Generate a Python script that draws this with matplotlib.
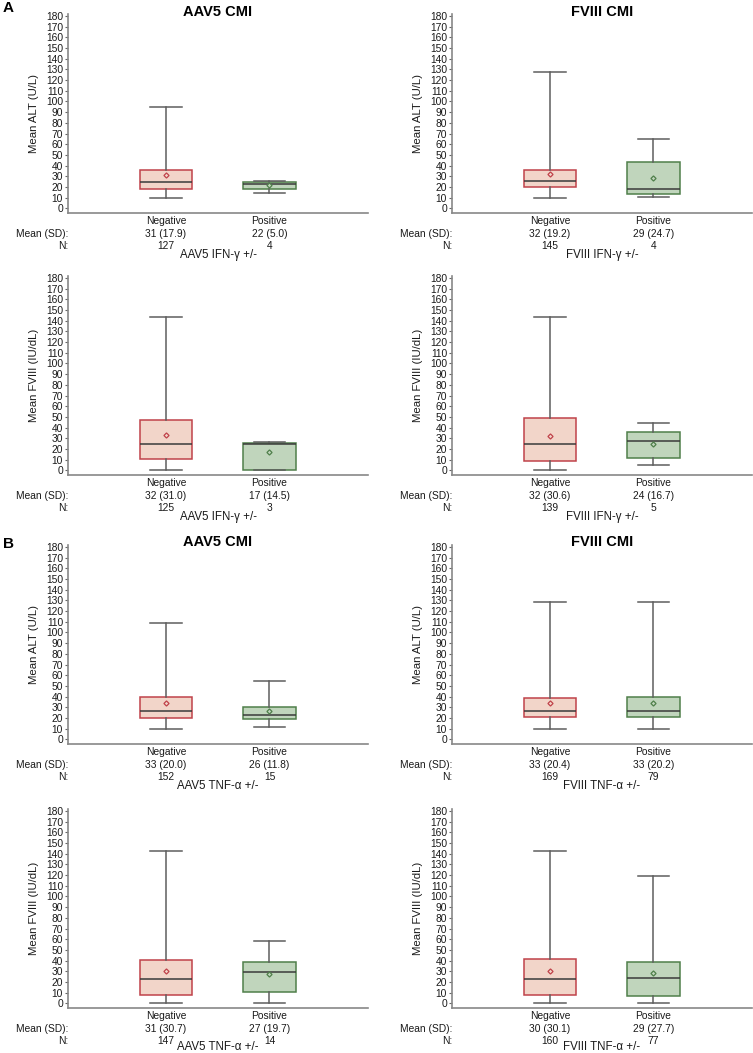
import matplotlib
matplotlib.use('Agg')
import matplotlib.pyplot as plt

plt.rcParams['font.family'] = ['Liberation Sans', 'DejaVu Sans']

# panel order: A ALT/AAV5, A ALT/FVIII, A FVIII/AAV5, A FVIII/FVIII,
#              B ALT/AAV5, B ALT/FVIII, B FVIII/AAV5, B FVIII/FVIII
groups = ['Negative', 'Positive']
titles = ['AAV5 CMI', 'FVIII CMI', None, None, 'AAV5 CMI', 'FVIII CMI', None, None]
ylabels = ['Mean ALT (U/L)', 'Mean ALT (U/L)',
           'Mean FVIII (IU/dL)', 'Mean FVIII (IU/dL)',
           'Mean ALT (U/L)', 'Mean ALT (U/L)',
           'Mean FVIII (IU/dL)', 'Mean FVIII (IU/dL)']
xlabels = ['AAV5 IFN-γ +/-', 'FVIII IFN-γ +/-', 'AAV5 IFN-γ +/-', 'FVIII IFN-γ +/-',
           'AAV5 TNF-α +/-', 'FVIII TNF-α +/-', 'AAV5 TNF-α +/-', 'FVIII TNF-α +/-']

whishi = [[94.5, 25.9], [127.6, 64.6], [143.4, 26.0], [143.4, 44.5],
          [109.0, 54.6], [128.2, 128.2], [142.7, 58.3], [142.7, 119.5]]
q3 = [[35.6, 25.0], [35.6, 43.0], [47.3, 25.4], [48.5, 35.7],
      [40.0, 30.1], [38.2, 39.1], [40.5, 38.9], [41.4, 38.9]]
med = [[25.0, 22.8], [25.6, 18.4], [24.4, 25.0], [24.1, 27.2],
       [26.7, 22.7], [26.4, 26.4], [22.6, 29.2], [22.3, 23.5]]
q1 = [[18.4, 17.8], [19.7, 13.1], [10.3, 0.3], [8.5, 11.0],
      [19.9, 19.2], [20.5, 20.5], [7.8, 10.7], [7.5, 6.3]]
whislo = [[9.7, 14.7], [9.7, 10.9], [0.0, 0.0], [0.0, 4.7],
          [9.3, 11.8], [9.6, 9.6], [0.0, 0.0], [0.0, 0.0]]
means = [[30.9, 21.8], [31.8, 28.0], [32.6, 16.9], [32.3, 24.4],
         [33.8, 26.4], [33.8, 33.5], [30.1, 27.0], [30.1, 28.5]]
mean_sd = [['31 (17.9)', '22 (5.0)'], ['32 (19.2)', '29 (24.7)'],
           ['32 (31.0)', '17 (14.5)'], ['32 (30.6)', '24 (16.7)'],
           ['33 (20.0)', '26 (11.8)'], ['33 (20.4)', '33 (20.2)'],
           ['31 (30.7)', '27 (19.7)'], ['30 (30.1)', '29 (27.7)']]
n_vals = [[127, 4], [145, 4], [125, 3], [139, 5],
          [152, 15], [169, 79], [147, 14], [160, 77]]

fills = ['#f2d5c9', '#c0d5bc']
edges = ['#c0424a', '#4f7f4a']

W, H = 753, 1053
fig = plt.figure(figsize=(W / 100, H / 100), dpi=100)

col_x = [68, 452]
ax_w = 300
row_top = [14, 276, 545, 809]
ax_h = 199

for i in range(8):
    r, c = divmod(i, 2)
    rect = [col_x[c] / W, 1 - (row_top[r] + ax_h) / H, ax_w / W, ax_h / H]
    ax = fig.add_axes(rect)

    for g in range(2):
        st = dict(med=med[i][g], q1=q1[i][g], q3=q3[i][g],
                  whislo=whislo[i][g], whishi=whishi[i][g],
                  mean=means[i][g], fliers=[])
        ax.bxp([st], positions=[g + 1], widths=0.512, capwidths=0.30,
               patch_artist=True, showmeans=True, showfliers=False,
               boxprops=dict(facecolor=fills[g], edgecolor=edges[g], linewidth=1.1),
               whiskerprops=dict(color='#5e5e5e', linewidth=1.1),
               capprops=dict(color='#5e5e5e', linewidth=1.1),
               medianprops=dict(color='#3a3a3a', linewidth=1.1),
               meanprops=dict(marker='D', markersize=2.6, markerfacecolor=fills[g],
                              markeredgecolor=edges[g], markeredgewidth=0.9))

    ax.set_xlim(0.053, 2.952)
    ax.set_ylim(-4.5, 182)
    ax.set_yticks(range(0, 181, 10))
    ax.tick_params(axis='y', labelsize=7.4, length=2.5, width=0.8, color='#666666',
                   pad=1, labelcolor='#1a1a1a')
    ax.set_xticks([])
    for s in ['top', 'right']:
        ax.spines[s].set_visible(False)
    for s in ['left', 'bottom']:
        ax.spines[s].set_color('#888888')
        ax.spines[s].set_linewidth(1.2)

    ax.text(-34 / ax_w, 0.5, ylabels[i], transform=ax.transAxes, rotation=90,
            ha='center', va='center', fontsize=8.2, color='#1a1a1a')

    for g in range(2):
        for off, txt in [(-8, groups[g]), (-21, mean_sd[i][g]), (-33, str(n_vals[i][g]))]:
            ax.annotate(txt, xy=(g + 1, 0), xycoords=('data', 'axes fraction'),
                        xytext=(0, off), textcoords='offset pixels',
                        ha='center', va='center', fontsize=7.4, color='#1a1a1a')
    for off, txt in [(-21, 'Mean (SD):'), (-33, 'N:')]:
        ax.annotate(txt, xy=(0, 0), xycoords='axes fraction',
                    xytext=(0, off), textcoords='offset pixels',
                    ha='right', va='center', fontsize=7.4, color='#1a1a1a')
    # bottom row label sits a little higher so it stays inside the figure
    xl_off = -39 if r == 3 else -42
    ax.annotate(xlabels[i], xy=(0.5, 0), xycoords='axes fraction',
                xytext=(0, xl_off), textcoords='offset pixels',
                ha='center', va='center', fontsize=8.3, color='#1a1a1a')

    if titles[i]:
        ax.annotate(titles[i], xy=(0.5, 1), xycoords='axes fraction',
                    xytext=(0, 2.5), textcoords='offset pixels',
                    ha='center', va='center', fontsize=10.5, fontweight='bold')

fig.text(3 / W, 1 - 8.5 / H, 'A', ha='left', va='center', fontsize=11, fontweight='bold')
fig.text(3 / W, 1 - 544 / H, 'B', ha='left', va='center', fontsize=11, fontweight='bold')

fig.savefig('out.png', dpi=100)
